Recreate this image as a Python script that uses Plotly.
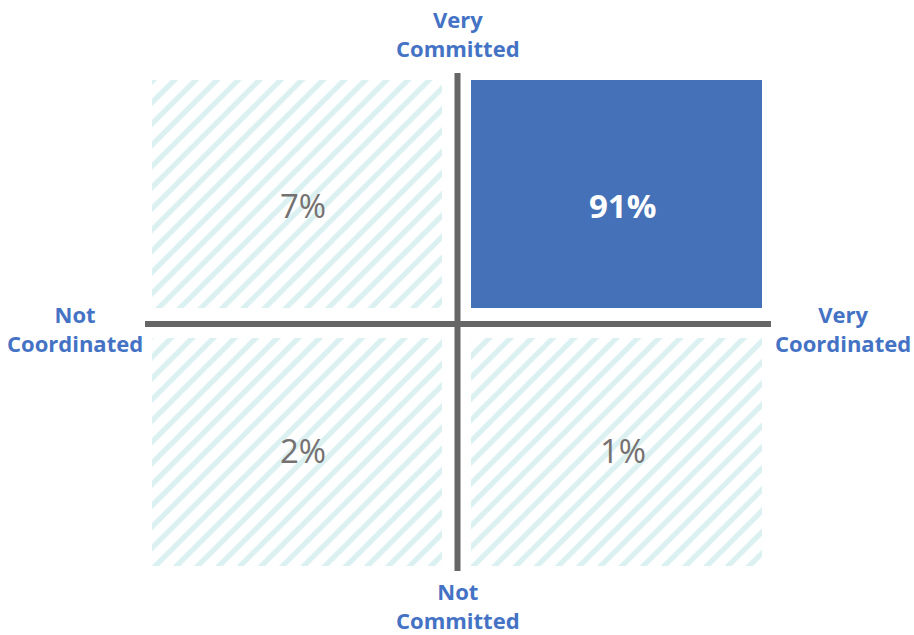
import plotly.graph_objects as go

# Quadrant data
quadrants = ["Not Coordinated / Very Committed", "Very Coordinated / Very Committed",
             "Not Coordinated / Not Committed", "Very Coordinated / Not Committed"]
values = [7, 91, 2, 1]
highlight = [False, True, False, False]

# quadrant bounds in axis units (x: coordination, y: commitment), centre = (0, 0)
x_lo = [-0.978, 0.042, -0.978, 0.042]
x_hi = [-0.051, 0.971, -0.051, 0.971]
y_lo = [0.064, 0.064, -0.968, -0.968]
y_hi = [0.976, 0.976, -0.056, -0.056]

axis_labels = ["Very<br>Committed", "Not<br>Committed", "Not<br>Coordinated", "Very<br>Coordinated"]

BLUE = "#4471B7"
LABEL_BLUE = "#4472C4"
GREY_TXT = "#767171"
HATCH = "#daf0f1"
AXIS = "#666666"

fig = go.Figure()

for i in range(4):
    xc = (x_lo[i] + x_hi[i]) / 2
    w = x_hi[i] - x_lo[i]
    if highlight[i]:
        marker = dict(color=BLUE, line=dict(width=0))
    else:
        marker = dict(color="white", line=dict(width=0),
                      pattern=dict(shape="/", fgcolor=HATCH, bgcolor="white",
                                   size=15, solidity=0.35, fillmode="replace"))
    fig.add_trace(go.Bar(x=[xc], y=[y_hi[i] - y_lo[i]], base=[y_lo[i]], width=[w],
                         marker=marker, hoverinfo="skip", showlegend=False))

# axes cross
fig.add_trace(go.Scatter(x=[-1.0, 1.0], y=[0, 0], mode="lines",
                         line=dict(color=AXIS, width=6), hoverinfo="skip", showlegend=False))
fig.add_trace(go.Scatter(x=[-0.0016, -0.0016], y=[-0.988, 1.004], mode="lines",
                         line=dict(color=AXIS, width=6), hoverinfo="skip", showlegend=False))

# percentage labels
for i in range(4):
    xc = (x_lo[i] + x_hi[i]) / 2 + 0.02
    yc = (y_lo[i] + y_hi[i]) / 2 + (-0.044 if y_lo[i] > 0 else 0.008)
    fig.add_annotation(x=xc, y=yc, text=("<b>%d%%</b>" % values[i]) if highlight[i] else "%d%%" % values[i],
                       showarrow=False,
                       font=dict(family="Open Sans", size=33,
                                 color="white" if highlight[i] else GREY_TXT))

label_pos = [(0.0, 1.164), (0.0, -1.124), (-1.224, -0.016), (1.230, -0.016)]
for t, (lx, ly) in zip(axis_labels, label_pos):
    fig.add_annotation(x=lx, y=ly, text="<b>" + t + "</b>", showarrow=False,
                       font=dict(family="Open Sans", size=22, color=LABEL_BLUE))

fig.update_layout(
    width=914, height=635, margin=dict(l=0, r=0, t=0, b=0),
    plot_bgcolor="white", paper_bgcolor="white", barmode="overlay", bargap=0,
    xaxis=dict(range=[-458 / 313, 456 / 313], visible=False, fixedrange=True),
    yaxis=dict(range=[-311 / 250, 324 / 250], visible=False, fixedrange=True),
)

fig.write_html("out.html")
